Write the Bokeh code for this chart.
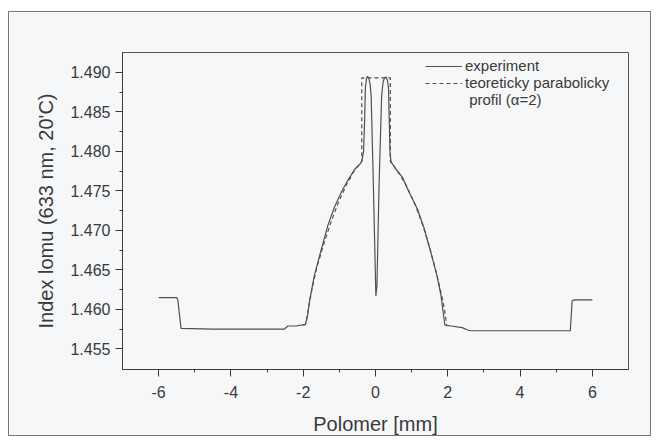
from bokeh.plotting import figure
from bokeh.models import FixedTicker, Legend, LegendItem, Range1d
from bokeh.embed import file_html
from bokeh.resources import INLINE

# ---- data ----
x_ticks = [-6, -4, -2, 0, 2, 4, 6]
x_tick_labels = ["-6", "-4", "-2", "0", "2", "4", "6"]
x_minor = [-5, -3, -1, 1, 3, 5]
y_ticks = [1.455, 1.460, 1.465, 1.470, 1.475, 1.480, 1.485, 1.490]
y_tick_labels = ["1.455", "1.460", "1.465", "1.470", "1.475", "1.480", "1.485", "1.490"]
y_minor = [1.4575, 1.4625, 1.4675, 1.4725, 1.4775, 1.4825, 1.4875]

exp_x = [-6.0, -5.50, -5.47, -5.38, -4.5, -3.5, -2.53, -2.42, -2.2, -1.94, -1.88,
         -1.82, -1.69, -1.50, -1.32, -1.14, -0.95, -0.77, -0.58, -0.45, -0.38,
         -0.33, -0.30, -0.28, -0.25, -0.22, -0.18, -0.15, -0.12, -0.06, 0.01,
         0.04, 0.10, 0.17, 0.21, 0.25, 0.29, 0.33, 0.36, 0.38, 0.40, 0.43,
         0.57, 0.75, 0.89, 1.16, 1.35, 1.53, 1.70, 1.81, 1.92, 2.10, 2.40,
         2.55, 2.63, 3.5, 4.5, 5.39, 5.44, 5.50, 6.0]
exp_y = [1.4615, 1.4615, 1.4612, 1.4576, 1.4575, 1.4575, 1.4575, 1.4579, 1.4579, 1.4581, 1.4592,
         1.4612, 1.4643, 1.4676, 1.4706, 1.4729, 1.4748, 1.4763, 1.4777, 1.4783, 1.4787,
         1.4800, 1.4840, 1.4880, 1.4892, 1.4895, 1.4892, 1.4885, 1.4870, 1.4760, 1.4617,
         1.4630, 1.4760, 1.4870, 1.4888, 1.4893, 1.4894, 1.4890, 1.4880, 1.4840, 1.4800, 1.4787,
         1.4777, 1.4767, 1.4752, 1.4727, 1.4702, 1.4672, 1.4643, 1.4618, 1.4580, 1.4579, 1.4577,
         1.4574, 1.4573, 1.4573, 1.4573, 1.4573, 1.4611, 1.4612, 1.4612]

th_x = [-2.0, -1.93, -1.86, -1.76, -1.63, -1.45, -1.25, -1.03, -0.80, -0.58, -0.38,
        -0.38, 0.41, 0.41, 0.60, 0.86, 1.10, 1.32, 1.52, 1.69, 1.82, 1.91, 1.97, 2.1]
th_y = [1.4580, 1.4581, 1.4600, 1.4625, 1.4652, 1.4680, 1.4708, 1.4735, 1.4758, 1.4776, 1.4787,
        1.4893, 1.4893, 1.4787, 1.4776, 1.4756, 1.4732, 1.4705, 1.4675, 1.4645, 1.4620, 1.4600,
        1.4580, 1.4579]

legend_labels = ["experiment", "teoreticky parabolicky", "\u00a0profil (\u03b1=2)"]

BG = "#f6f7f8"
INK = "#3a3a3a"
FONT = "Liberation Sans"

p = figure(width=643, height=425, x_range=Range1d(-7, 7), y_range=Range1d(1.4524, 1.4925),
           output_backend="svg", toolbar_location=None,
           min_border_left=113, min_border_right=24, min_border_top=40, min_border_bottom=67,
           background_fill_color=BG, border_fill_color=BG, outline_line_color="#555555")
p.styles = {"border": "1px solid #777777"}
p.margin = (11, 0, 0, 8)
p.xgrid.visible = False
p.ygrid.visible = False

r_exp = p.line(exp_x, exp_y, line_color="#505050", line_width=1.2)
r_th = p.line(th_x, th_y, line_color="#505050", line_width=1.2, line_dash="4 3")
r_dummy = p.line(x=[], y=[], line_alpha=0)

for ax in (p.xaxis[0], p.yaxis[0]):
    ax.axis_line_color = INK
    ax.major_tick_line_color = INK
    ax.minor_tick_line_color = INK
    ax.major_tick_in = 0
    ax.major_tick_out = 7
    ax.minor_tick_in = 0
    ax.minor_tick_out = 3
    ax.major_label_text_font = FONT
    ax.major_label_text_font_size = "16px"
    ax.major_label_text_color = INK
    ax.axis_label_text_font = FONT
    ax.axis_label_text_font_size = "20px"
    ax.axis_label_text_font_style = "normal"
    ax.axis_label_text_color = INK

p.xaxis.ticker = FixedTicker(ticks=x_ticks, minor_ticks=x_minor)
p.xaxis.major_label_overrides = dict(zip(x_ticks, x_tick_labels))
p.xaxis.axis_label = "Polomer [mm]"
p.xaxis.major_label_standoff = 9
p.xaxis.axis_label_standoff = 12

p.yaxis.ticker = FixedTicker(ticks=y_ticks, minor_ticks=y_minor)
p.yaxis.major_label_overrides = dict(zip(y_ticks, y_tick_labels))
p.yaxis.axis_label = "Index lomu (633 nm, 20'C)"
p.yaxis.major_label_standoff = 5
p.yaxis.axis_label_standoff = 10

legend = Legend(items=[LegendItem(label=legend_labels[0], renderers=[r_exp]),
                       LegendItem(label=legend_labels[1], renderers=[r_th]),
                       LegendItem(label=legend_labels[2], renderers=[r_dummy])],
                location=(303, 261), padding=0, spacing=0, margin=0,
                glyph_width=37, glyph_height=12, label_height=12, label_standoff=3,
                label_text_font=FONT, label_text_font_size="15px", label_text_color=INK,
                background_fill_alpha=0, border_line_alpha=0)
p.add_layout(legend, "center")

open("out.html", "w").write(file_html(p, INLINE))
